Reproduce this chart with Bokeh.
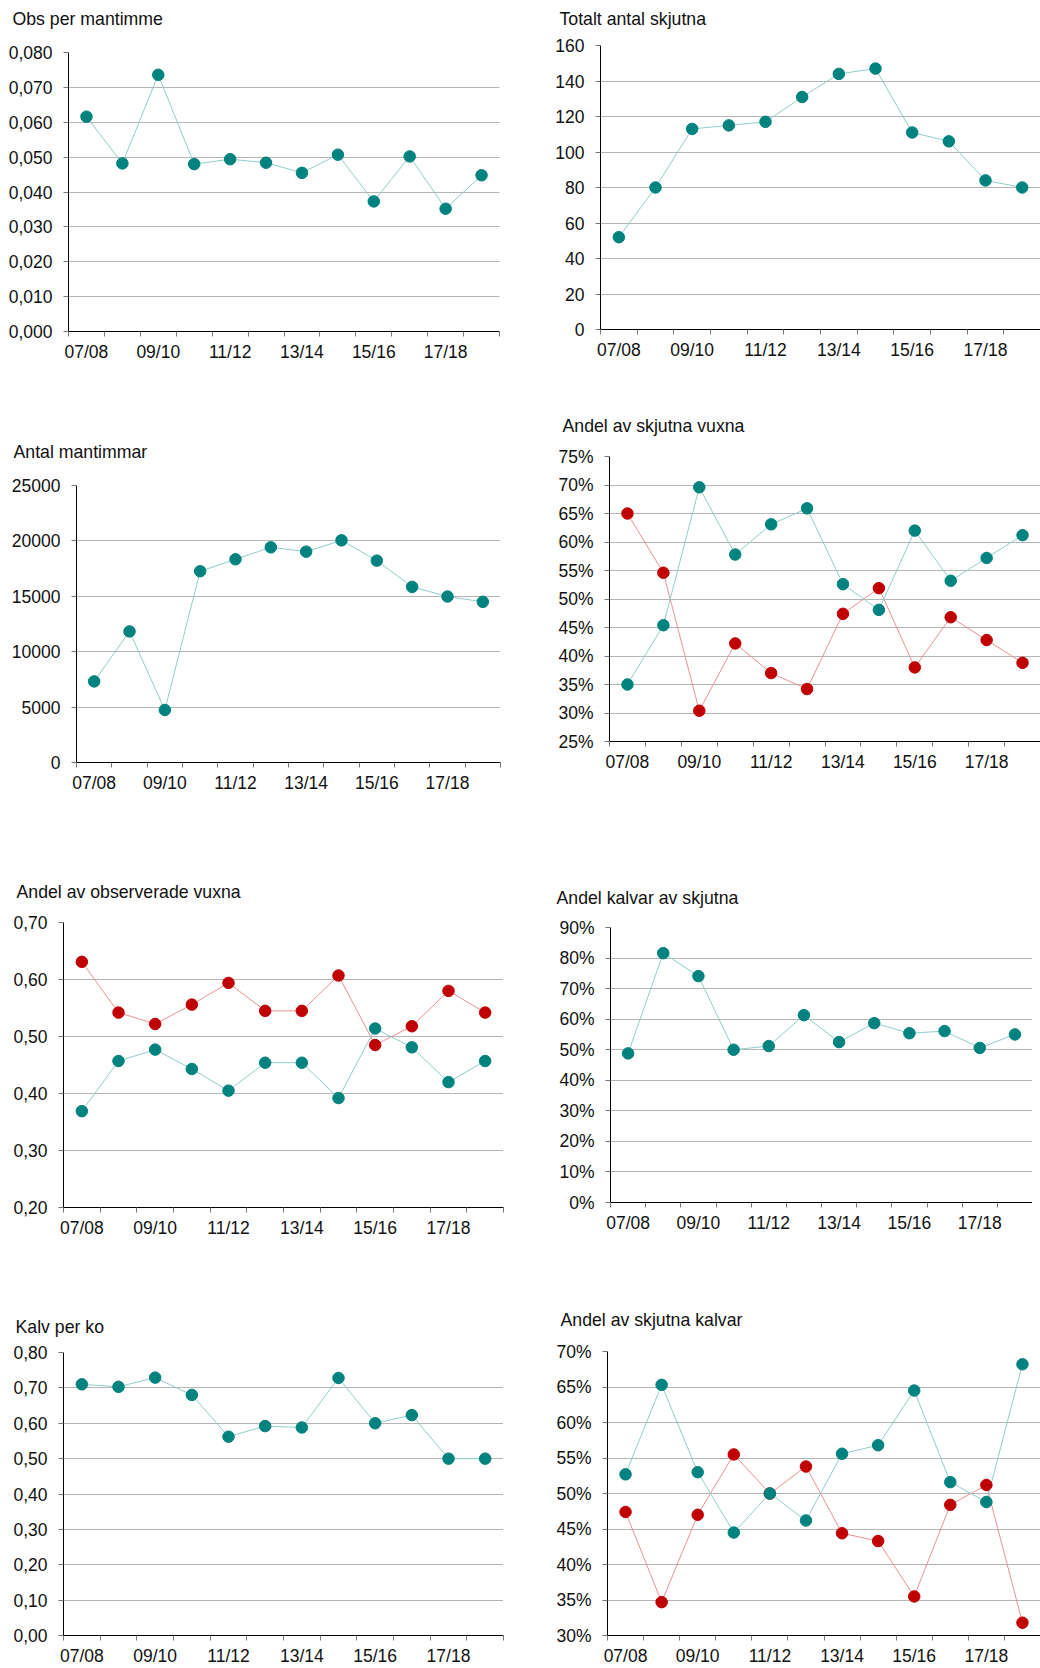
from bokeh.plotting import figure
from bokeh.layouts import row, column
from bokeh.models import Range1d, FixedTicker, CustomJSTickFormatter, Spacer, Title
from bokeh.embed import file_html
from bokeh.resources import INLINE

# ---------------- data ----------------
seasons = ["07/08", "08/09", "09/10", "10/11", "11/12", "12/13",
           "13/14", "14/15", "15/16", "16/17", "17/18", "18/19"]
label_seasons = ["07/08", "09/10", "11/12", "13/14", "15/16", "17/18"]

obs_per_mantimme = [0.0616, 0.0482, 0.0736, 0.0480, 0.0494, 0.0484,
                    0.0455, 0.0507, 0.0373, 0.0502, 0.0352, 0.0448]
totalt_skjutna = [52, 80, 113, 115, 117, 131, 144, 147, 111, 106, 84, 80]
antal_mantimmar = [7320, 11830, 4740, 17260, 18340, 19420,
                   19030, 20050, 18220, 15850, 14980, 14500]
skjutna_vuxna_teal = [35.0, 45.4, 69.6, 57.8, 63.1, 65.9, 52.6, 48.1, 62.0, 53.2, 57.2, 61.2]
skjutna_vuxna_red = [65.0, 54.6, 30.4, 42.2, 37.0, 34.2, 47.4, 51.9, 38.0, 46.8, 42.8, 38.8]
obs_vuxna_red = [0.631, 0.542, 0.522, 0.556, 0.594, 0.545, 0.545, 0.607, 0.485, 0.518, 0.580, 0.542]
obs_vuxna_teal = [0.369, 0.457, 0.477, 0.443, 0.405, 0.454, 0.454, 0.392, 0.514, 0.481, 0.420, 0.457]
kalvar_av_skjutna = [48.8, 81.6, 74.1, 50.0, 51.2, 61.3, 52.5, 58.7, 55.4, 56.1, 50.6, 55.0]
kalv_per_ko = [0.710, 0.703, 0.729, 0.680, 0.562, 0.592, 0.588, 0.728, 0.600, 0.623, 0.500, 0.500]
skjutna_kalvar_teal = [52.7, 65.3, 53.0, 44.5, 50.0, 46.2, 55.6, 56.8, 64.5, 51.6, 48.8, 68.2]
skjutna_kalvar_red = [47.4, 34.7, 47.0, 55.5, 50.0, 53.8, 44.4, 43.3, 35.5, 48.4, 51.2, 31.8]

ticks_obs = [0.0, 0.01, 0.02, 0.03, 0.04, 0.05, 0.06, 0.07, 0.08]
ticks_totalt = [0, 20, 40, 60, 80, 100, 120, 140, 160]
ticks_mantimmar = [0, 5000, 10000, 15000, 20000, 25000]
ticks_skj_vuxna = [25, 30, 35, 40, 45, 50, 55, 60, 65, 70, 75]
ticks_obs_vuxna = [0.2, 0.3, 0.4, 0.5, 0.6, 0.7]
ticks_kalvar = [0, 10, 20, 30, 40, 50, 60, 70, 80, 90]
ticks_kalv_ko = [0.0, 0.1, 0.2, 0.3, 0.4, 0.5, 0.6, 0.7, 0.8]
ticks_skj_kalvar = [30, 35, 40, 45, 50, 55, 60, 65, 70]

# ---------------- style ----------------
TEAL = "#00827E"
TEAL_LINE = "#8FCDCA"
RED = "#C00000"
RED_LINE = "#EE9090"
FONT = "Liberation Sans"
TICK_SIZE = "17.5px"
TITLE_SIZE = "17.7px"
GRID_COLOR = "#6A6A6A"

FMT = {
    "d3": "return tick.toFixed(3).replace('.', ',');",
    "d2": "return tick.toFixed(2).replace('.', ',');",
    "int": "return tick.toFixed(0);",
    "pct": "return tick.toFixed(0) + '%';",
}


def make(title, yticks, fmt, series, g):
    n = len(seasons)
    p = figure(width=g["w"], height=g["h"], output_backend="svg", toolbar_location=None,
               title=None,
               x_range=Range1d(0, n), y_range=Range1d(yticks[0], yticks[-1]),
               min_border_left=g["mbl"], min_border_right=g["mbr"],
               min_border_top=g["mbt"], min_border_bottom=g["mbb"])
    p.outline_line_color = None
    p.background_fill_color = "white"
    p.border_fill_color = "white"

    # invisible gap between heading and frame, then the heading itself
    p.add_layout(Title(text=" ", text_font_size="1px", standoff=g["gap"]), "above")
    p.add_layout(Title(text=title, align="left", offset=g["toff"], standoff=0,
                       text_font=FONT, text_font_size=TITLE_SIZE,
                       text_font_style="normal", text_color="#111111"), "above")

    xa = p.xaxis[0]
    centers = [seasons.index(s) + 0.5 for s in label_seasons]
    xa.ticker = FixedTicker(ticks=centers, minor_ticks=list(range(n + 1)))
    xa.formatter = CustomJSTickFormatter(args=dict(labels=seasons),
                                         code="return labels[Math.floor(tick)];")
    xa.major_tick_out = 0
    xa.major_tick_in = 0
    xa.minor_tick_out = 5
    xa.minor_tick_in = 0
    xa.minor_tick_line_color = "#777777"
    xa.axis_line_color = "black"
    xa.major_label_standoff = 5
    xa.major_label_text_font = FONT
    xa.major_label_text_font_size = TICK_SIZE
    xa.major_label_text_color = "#111111"

    ya = p.yaxis[0]
    ya.ticker = FixedTicker(ticks=yticks, minor_ticks=[])
    ya.formatter = CustomJSTickFormatter(code=FMT[fmt])
    ya.major_tick_out = 5
    ya.major_tick_in = 0
    ya.major_tick_line_color = "#777777"
    ya.axis_line_color = "black"
    ya.major_label_standoff = 11
    ya.major_label_text_font = FONT
    ya.major_label_text_font_size = TICK_SIZE
    ya.major_label_text_color = "#111111"

    p.xgrid.visible = False
    p.ygrid.ticker = FixedTicker(ticks=yticks, minor_ticks=[])
    p.ygrid.grid_line_color = GRID_COLOR
    p.ygrid.grid_line_dash = "1 1"
    p.ygrid.grid_line_width = 1

    xs = [i + 0.5 for i in range(n)]
    for vals, mc, lc in series:
        p.line(xs, vals, line_color=lc, line_width=1)
    for vals, mc, lc in series:
        p.scatter(xs, vals, size=11.5, fill_color=mc, line_color=mc)

    if g["shift"] > 0:
        return row(Spacer(width=g["shift"], height=g["h"]), p)
    return row(p)


# geometry (pixels) of each panel
TOP_L = 5
TOP_R = 6
G1 = dict(shift=5, w=511, h=433, mbl=63, mbr=17, mbt=47, mbb=107, toff=-56, gap=21.1)
G3 = dict(shift=8, w=509, h=441, mbl=66, mbr=17, mbt=47, mbb=117, toff=-63, gap=20.9)
G5 = dict(shift=0, w=520, h=435, mbl=63, mbr=17, mbt=43, mbb=107, toff=-47, gap=18.1)
G7 = dict(shift=0, w=520, h=354, mbl=63, mbr=17, mbt=38, mbb=29, toff=-48, gap=13.1)

G2 = dict(shift=0, w=520, h=407, mbl=80, mbr=0, mbt=39, mbb=84, toff=-41, gap=14)
G4 = dict(shift=9, w=511, h=472, mbl=80, mbr=0, mbt=43, mbb=144, toff=-47, gap=17.9)
G6 = dict(shift=10, w=502, h=422, mbl=80, mbr=0, mbt=42, mbb=105, toff=-54, gap=17)
G8 = dict(shift=7, w=513, h=361, mbl=80, mbr=0, mbt=44, mbb=32, toff=-47, gap=18.8)

f1 = make("Obs per mantimme", ticks_obs, "d3",
          [(obs_per_mantimme, TEAL, TEAL_LINE)], G1)
f3 = make("Antal mantimmar", ticks_mantimmar, "int",
          [(antal_mantimmar, TEAL, TEAL_LINE)], G3)
f5 = make("Andel av observerade vuxna", ticks_obs_vuxna, "d2",
          [(obs_vuxna_red, RED, RED_LINE), (obs_vuxna_teal, TEAL, TEAL_LINE)], G5)
f7 = make("Kalv per ko", ticks_kalv_ko, "d2",
          [(kalv_per_ko, TEAL, TEAL_LINE)], G7)

f2 = make("Totalt antal skjutna", ticks_totalt, "int",
          [(totalt_skjutna, TEAL, TEAL_LINE)], G2)
f4 = make("Andel av skjutna vuxna", ticks_skj_vuxna, "pct",
          [(skjutna_vuxna_red, RED, RED_LINE), (skjutna_vuxna_teal, TEAL, TEAL_LINE)], G4)
f6 = make("Andel kalvar av skjutna", ticks_kalvar, "pct",
          [(kalvar_av_skjutna, TEAL, TEAL_LINE)], G6)
f8 = make("Andel av skjutna kalvar", ticks_skj_kalvar, "pct",
          [(skjutna_kalvar_red, RED, RED_LINE), (skjutna_kalvar_teal, TEAL, TEAL_LINE)], G8)

left = column(Spacer(width=520, height=TOP_L), f1, f3, f5, f7)
right = column(Spacer(width=520, height=TOP_R), f2, f4, f6, f8)
layout = row(left, right)

open("out.html", "w").write(file_html(layout, INLINE, title="Älg"))
